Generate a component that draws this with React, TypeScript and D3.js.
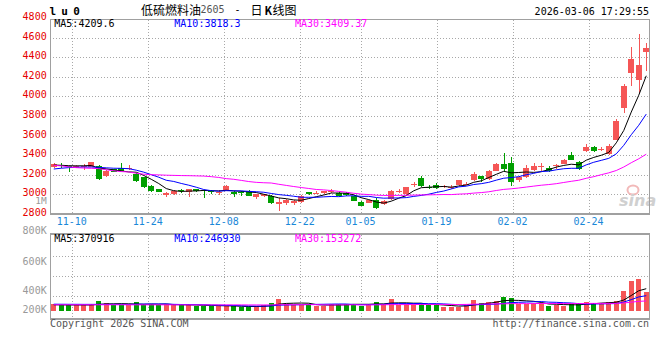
import React from "react";
import * as d3 from "d3";

// ---- data ----
const opens = [3276,3300,3285,3272,3282,3283,3292,3190,3258,3265,3255,3205,3175,3087,3052,2992,2998,3042,3020,3050,3042,3035,3022,3035,3025,3025,3033,2975,2978,2982,2898,2908,2908,2922,3020,3012,3010,3032,3018,3012,2985,2923,2915,2945,2905,2950,3032,3000,3100,3168,3077,3100,3070,3066,3094,3100,3146,3187,3156,3241,3310,3323,3146,3180,3250,3285,3272,3292,3310,3400,3325,3443,3487,3455,3412,3556,3880,4233,4170,4451];
const highs = [3318,3317,3290,3300,3305,3332,3300,3248,3262,3318,3300,3215,3180,3090,3058,3020,3040,3050,3058,3055,3048,3040,3040,3090,3030,3030,3045,3005,3005,2990,2958,2955,2940,2990,3022,3030,3036,3050,3022,3020,2990,2930,2945,2960,2940,3040,3057,3075,3128,3190,3090,3118,3095,3090,3150,3130,3230,3190,3245,3320,3420,3380,3190,3300,3320,3323,3290,3310,3360,3430,3340,3515,3490,3487,3510,3765,4125,4507,4633,4540];
const lows = [3270,3270,3225,3265,3250,3278,3145,3175,3225,3238,3250,3130,3060,3025,3020,2975,2995,3010,2972,3028,2965,3000,2995,3030,2975,2982,2980,2950,2970,2905,2830,2895,2890,2915,2995,3000,3005,3010,2975,2985,2930,2880,2910,2850,2895,2945,3010,2995,3078,3078,3050,3055,3060,3055,3085,3090,3135,3130,3150,3235,3240,3085,3130,3170,3240,3240,3232,3260,3305,3345,3245,3430,3430,3445,3405,3550,3825,4110,4035,4256];
const closes = [3310,3290,3280,3290,3286,3325,3155,3240,3232,3242,3272,3140,3077,3035,3025,3015,3032,3038,3053,3035,3038,3020,3026,3087,3003,3018,2985,2998,2998,2913,2922,2945,2935,2980,3000,3017,3032,3036,2980,2990,2935,2885,2940,2857,2932,3035,3038,3070,3105,3088,3060,3062,3085,3070,3146,3105,3207,3158,3240,3310,3258,3130,3175,3265,3290,3292,3240,3300,3350,3352,3260,3480,3440,3460,3495,3750,4110,4380,4318,4490];
const volumes = [94000,90000,76000,73000,73000,95000,149000,117000,81000,87000,81000,129000,94000,95000,76000,99000,76000,87000,78000,69000,72000,64000,69000,60000,64000,40000,42000,69000,76000,111000,184000,108000,90000,90000,94000,64000,64000,94000,94000,108000,108000,67000,94000,129000,108000,184000,85000,94000,99000,108000,76000,76000,49000,55000,55000,90000,167000,113000,135000,152000,223000,206000,99000,99000,111000,122000,64000,81000,64000,99000,111000,135000,111000,121000,135000,152000,330000,513000,543000,318000];

// moving-average values at the left edge (their history lies before the window)
const ma5Lead = [3298,3296,3292,3290];
const ma10Lead = [3258,3266,3272,3276,3278,3278,3275,3270,3266];
const ma30Lead = [3295,3290,3280,3272,3268,3265,3262,3250,3240,3232,3228,3215,3205,3200,3198,3195,3193,3191,3190,3188,3186,3180,3172,3160,3153,3142,3130,3122,3118];
const vma5Lead = [85000,84000,82000,82000];
const vma10Lead = [96000,95000,94000,94000,93000,93000,93000,93000,93000];
const vma30Lead = [86000,86000,86000,86000,86000,86000,86000,86000,86000,86000,85000,85000,85000,85000,85000,85000,85000,85000,84000,84000,84000,84000,84000,84000,84000,84000,83000,83000,83000];

const dateLabels = ["11-10","11-24","12-08","12-22","01-05","01-19","02-02","02-24"];
const dateIndex = [3,13,23,33,41,51,61,71];
const priceTicks = [4800,4600,4400,4200,4000,3800,3600,3400,3200,3000,2800];
const priceGrid = [4600,4400,4200,4000,3800,3600,3400,3200,3000];
const volTickValues = [800000,600000,400000,200000];
const volTickLabels = ["800K","600K","400K","200K"];
const priceMaText = ["MA5:4209.6","MA10:3818.3","MA30:3409.37"];
const volMaText = ["MA5:370916","MA10:246930","MA30:153272"];
const maColors = ["#000000","#0000ff","#ff00ff"];

const MONO = "'DejaVu Sans Mono', monospace";
const CJK = "'Noto Sans CJK SC', sans-serif";
const UP = "#f55656";
const DOWN = "#009f00";
const FRAME = "#a0a0a0";
const GRID = "#a8a8a8";

function movingAverage(values: number[], n: number, lead: number[]) {
  return values.map((_, i) => (i < n - 1 ? lead[i] : (d3.mean(values.slice(i - n + 1, i + 1)) as number)));
}

export default function App() {
  const n = closes.length;
  const x = d3.scaleBand<number>().domain(d3.range(n)).range([50, 650]);
  const cx = (i: number) => (x(i) as number) + x.bandwidth() / 2;
  const gridX = d3.scaleLinear().domain([0, n - 1]).range([49.5, 650]);
  const y = d3.scaleLinear().domain([2800, 4800]).range([213.9, 17.9]);
  const yV = d3.scaleLinear().domain([0, 1360000]).range([309.6, 233]);
  const volBase = 311;
  const volLabelY = d3.scaleLinear().domain(volTickValues).range([230.7, 261, 290, 309.7]);
  const volGrid = d3.scaleLinear().domain([0, 4]).range([235.5, 315.5]);

  const pMa = [movingAverage(closes, 5, ma5Lead), movingAverage(closes, 10, ma10Lead), movingAverage(closes, 30, ma30Lead)];
  const vMa = [movingAverage(volumes, 5, vma5Lead), movingAverage(volumes, 10, vma10Lead), movingAverage(volumes, 30, vma30Lead)];
  const pLine = d3.line<number>().x((_, i) => cx(i)).y((d) => y(d));
  const vLine = d3.line<number>().x((_, i) => cx(i)).y((d) => yV(d));

  const bodyW = 6;
  const barW = 5.4;

  return (
    <svg width={660} height={360} style={{ position: "absolute", left: 0, top: 0, background: "#fff" }}>
      <rect x={0} y={0} width={660} height={360} fill="#fff" />
      {/* header */}
      <text x={49.5} y={15} fontFamily={MONO} fontSize={11} fontWeight="bold" letterSpacing={5.2} fill="#000">lu0</text>
      <text x={141} y={14.5} fontFamily={CJK} fontSize={12} fill="#000">低硫燃料油</text>
      <text x={200.5} y={13} fontFamily={MONO} fontSize={10} fill="#555">2605</text>
      <text x={234.5} y={13} fontFamily={MONO} fontSize={10} fill="#000">-</text>
      <text x={250.5} y={14.5} fontFamily={CJK} fontSize={12} fill="#000">日</text>
      <text x={264.5} y={14.5} fontFamily={CJK} fontSize={11} fontWeight="bold" fill="#000">K</text>
      <text x={272.5} y={14.5} fontFamily={CJK} fontSize={12} fill="#000">线图</text>
      <text x={649} y={15} textAnchor="end" fontFamily={MONO} fontSize={10} fill="#000">2026-03-06 17:29:55</text>

      {/* price panel grid */}
      {priceGrid.map((p) => (
        <line key={"pg" + p} x1={50} x2={649} y1={Math.round(y(p)) + 0.5} y2={Math.round(y(p)) + 0.5} stroke={GRID} strokeDasharray="1,2" />
      ))}
      {dateIndex.map((d) => (
        <line key={"vg" + d} x1={Math.round(gridX(d)) + 0.5} x2={Math.round(gridX(d)) + 0.5} y1={20} y2={213} stroke={GRID} strokeDasharray="1,2" />
      ))}
      {/* volume panel grid */}
      {[1, 2, 3].map((k) => (
        <line key={"vh" + k} x1={50} x2={649} y1={Math.round(volGrid(k)) + 0.5} y2={Math.round(volGrid(k)) + 0.5} stroke={GRID} strokeDasharray="1,2" />
      ))}
      {dateIndex.map((d) => (
        <line key={"vv" + d} x1={Math.round(gridX(d)) + 0.5} x2={Math.round(gridX(d)) + 0.5} y1={235} y2={322} stroke={GRID} strokeDasharray="1,2" />
      ))}

      {/* watermark */}
      <ellipse cx={633} cy={190} rx={5.5} ry={4.5} fill="none" stroke="#f2b9b9" strokeWidth={2} />
      <text x={619} y={206} fontFamily="'DejaVu Sans', sans-serif" fontStyle="italic" fontWeight="bold" fontSize={16} fill="#d0d0d0">sina</text>

      {/* candles */}
      <g shapeRendering="crispEdges">
        {closes.map((c, i) => {
          const o = opens[i];
          const col = c >= o ? UP : DOWN;
          const top = y(Math.max(o, c));
          const h = Math.max(1, y(Math.min(o, c)) - top);
          return (
            <g key={"c" + i}>
              <line x1={Math.round(cx(i)) + 0.5} x2={Math.round(cx(i)) + 0.5} y1={y(highs[i])} y2={y(lows[i])} stroke={col} strokeWidth={1} />
              <rect x={cx(i) - bodyW / 2} y={top} width={bodyW} height={h} fill={col} />
            </g>
          );
        })}
      </g>
      {pMa.map((m, k) => (
        <path key={"pm" + k} d={pLine(m) as string} fill="none" stroke={maColors[k]} strokeWidth={1} />
      ))}

      {/* volume bars */}
      <g shapeRendering="crispEdges">
        {volumes.map((v, i) => (
          <rect key={"v" + i} x={cx(i) - barW / 2} y={yV(v)} width={barW} height={volBase - yV(v)} fill={closes[i] >= opens[i] ? UP : DOWN} />
        ))}
      </g>
      {vMa.map((m, k) => (
        <path key={"vm" + k} d={vLine(m) as string} fill="none" stroke={maColors[k]} strokeWidth={1} />
      ))}

      {/* frames */}
      <g shapeRendering="crispEdges" fill="none">
        <line x1={50} x2={650} y1={19.5} y2={19.5} stroke={FRAME} />
        <line x1={50.5} x2={50.5} y1={19} y2={214} stroke={FRAME} />
        <line x1={649.5} x2={649.5} y1={19} y2={214} stroke={FRAME} />
        <line x1={50} x2={650} y1={213.5} y2={213.5} stroke={FRAME} strokeWidth={2} />
        <line x1={50} x2={650} y1={234} y2={234} stroke={FRAME} strokeWidth={1.5} />
        <line x1={50.5} x2={50.5} y1={234} y2={319} stroke={FRAME} />
        <line x1={649.5} x2={649.5} y1={234} y2={319} stroke={FRAME} />
        <line x1={50} x2={650} y1={318.5} y2={318.5} stroke={FRAME} strokeWidth={2} />
      </g>

      {/* price axis labels */}
      {priceTicks.map((p) => (
        <text key={"pt" + p} x={46.7} y={y(p) + 2} textAnchor="end" fontFamily={MONO} fontSize={10} fill="#e60000">{p}</text>
      ))}
      <text x={46.7} y={204.3} textAnchor="end" fontFamily={MONO} fontSize={9.5} fill="#999">1M</text>
      {volTickValues.map((v, k) => (
        <text key={"vt" + v} x={46.7} y={volLabelY(v) + 3.5} textAnchor="end" fontFamily={MONO} fontSize={10} fill="#999">{volTickLabels[k]}</text>
      ))}

      {/* date labels */}
      {dateIndex.map((d, k) => (
        <text key={"dl" + d} x={gridX(d) - 0.6} y={225.3} textAnchor="middle" fontFamily={MONO} fontSize={10} fill="#1a88d8">{dateLabels[k]}</text>
      ))}

      {/* MA legends */}
      {priceMaText.map((t, k) => (
        <text key={"pmt" + k} x={[54.3, 174.3, 295][k]} y={27.3} fontFamily={MONO} fontSize={10} fill={maColors[k]}>{t}</text>
      ))}
      {volMaText.map((t, k) => (
        <text key={"vmt" + k} x={[54.3, 174.3, 295][k]} y={241.7} fontFamily={MONO} fontSize={10} fill={maColors[k]}>{t}</text>
      ))}

      {/* footer */}
      <text x={50} y={326.7} fontFamily={MONO} fontSize={10} fill="#555">Copyright 2026 SINA.COM</text>
      <text x={649} y={326.7} textAnchor="end" fontFamily={MONO} fontSize={10} fill="#555">http://finance.sina.com.cn</text>
    </svg>
  );
}
